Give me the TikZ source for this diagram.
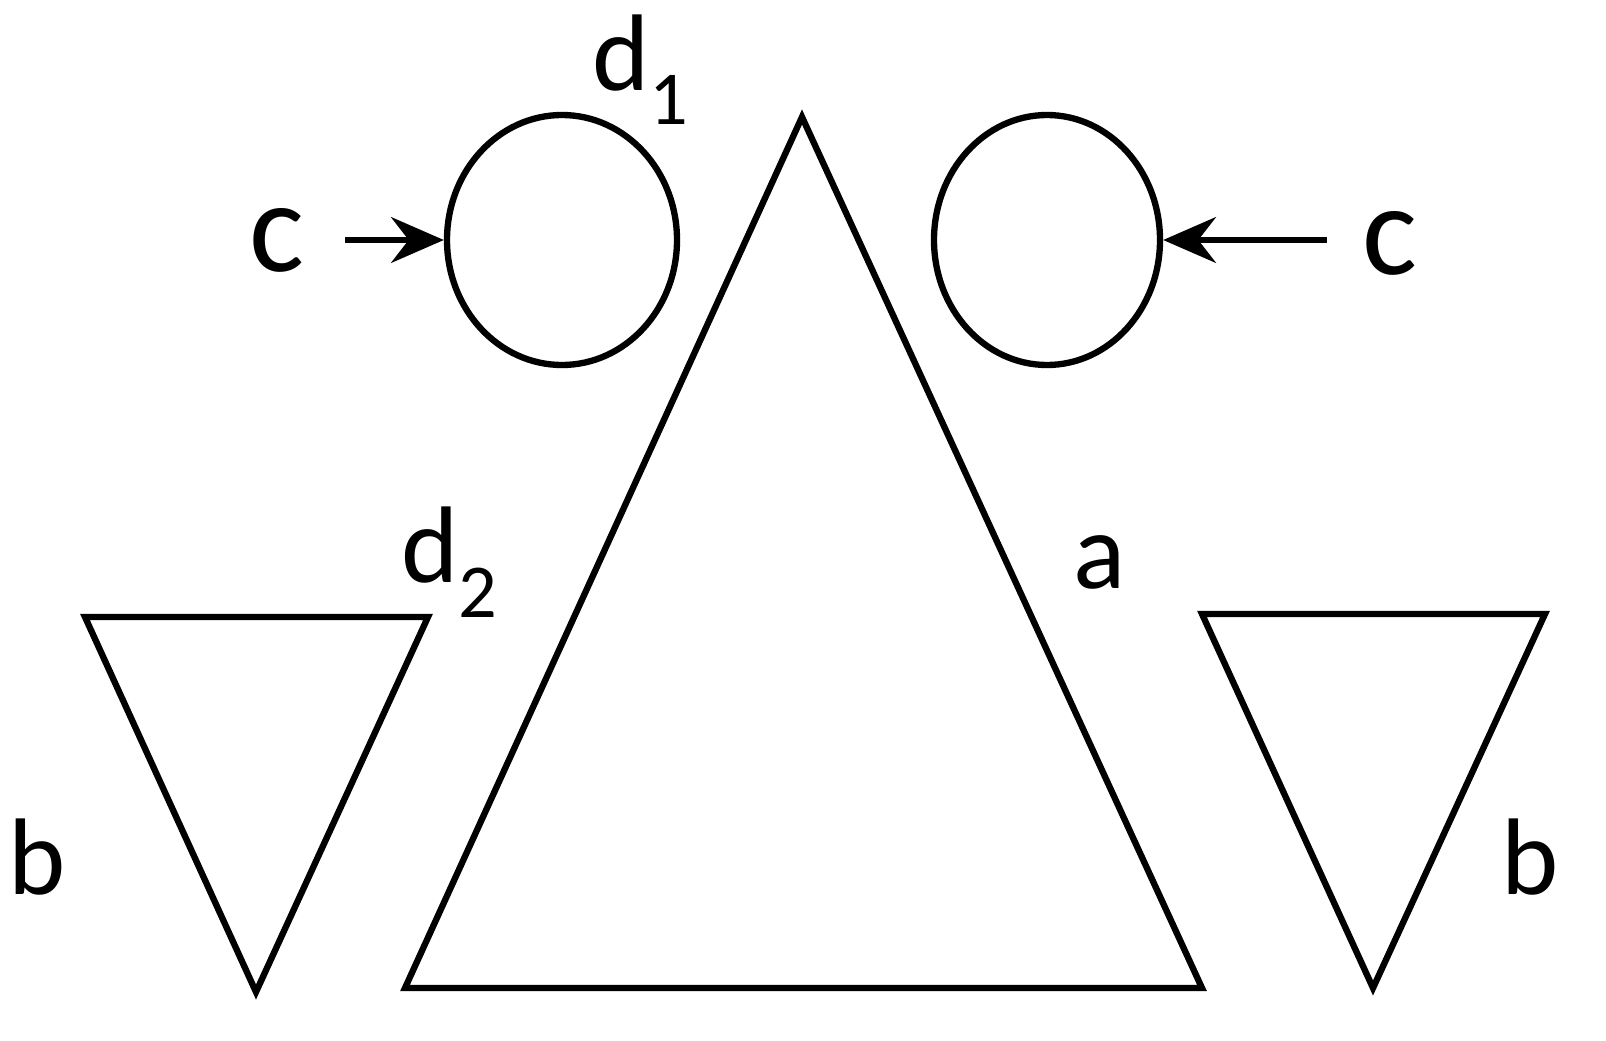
\documentclass[tikz,border=0pt]{standalone}
\usepackage{fontspec}
\setmainfont{Carlito}
\usetikzlibrary{arrows.meta,shapes.geometric}
\begin{document}
\begin{tikzpicture}[x=0.02cm,y=-0.02cm,line width=3.6pt,
  lbl/.style={font=\fontsize{62}{70}\selectfont,inner sep=0pt},
  ring/.style={draw,ellipse,inner sep=0pt},
  arr/.style={-{Stealth[length=30pt,width=26pt,inset=10pt]}}]
\clip (0,0) rectangle (1606,1041);
\draw (802,117) -- (1202,988) -- (405,988) -- cycle;
\draw (85,617) -- (428,617) -- (256,992) -- cycle;
\draw (1202,614) -- (1545,614) -- (1373,988) -- cycle;
\node[ring,minimum width=230*0.02cm,minimum height=250*0.02cm] (L) at (562,240) {};
\node[ring,minimum width=226*0.02cm,minimum height=250*0.02cm] (R) at (1047,240) {};
\coordinate (la) at (345,240);
\coordinate (ra) at (1327,240);
\draw[arr] (la) -- (L.west);
\draw[arr] (ra) -- (R.east);
\node[lbl,font=\fontsize{74}{80}\selectfont] (c1) at (277,240) {c};
\node[lbl,font=\fontsize{74}{80}\selectfont] (c2) at (1390,243) {c};
\node[lbl] (d1) at (641,70) {d$_{\mathrm{1}}$};
\node[lbl] (d2) at (450,562) {d$_{\mathrm{2}}$};
\node[lbl] (a) at (1100,562) {a};
\node[lbl] (b1) at (37,857) {b};
\node[lbl] (b2) at (1530,857) {b};
\end{tikzpicture}
\end{document}
